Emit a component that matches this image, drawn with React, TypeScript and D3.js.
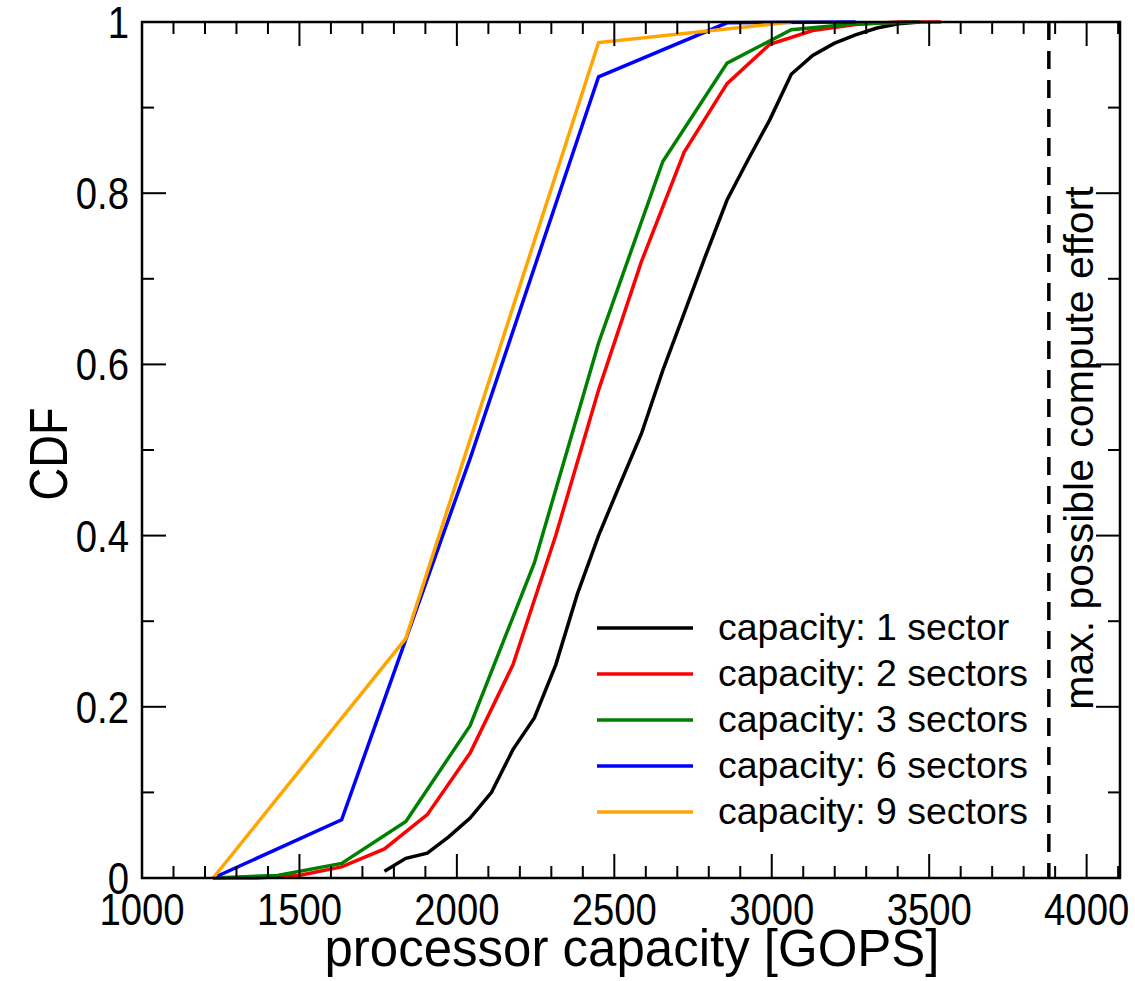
import React from "react";
import * as d3 from "d3";

const seriesNames = [
  "capacity: 1 sector",
  "capacity: 2 sectors",
  "capacity: 3 sectors",
  "capacity: 6 sectors",
  "capacity: 9 sectors",
];
const seriesColors = ["#000000", "#ff0000", "#008000", "#0000ff", "#ffa500"];

const sector1: [number, number][] = [
  [1770, 0.008], [1838, 0.023], [1906, 0.029], [1974, 0.048], [2042, 0.07],
  [2110, 0.1], [2178, 0.15], [2246, 0.187], [2314, 0.249], [2382, 0.331],
  [2450, 0.4], [2518, 0.46], [2586, 0.519], [2654, 0.593], [2722, 0.66],
  [2790, 0.727], [2858, 0.792], [2926, 0.84], [2994, 0.886], [3062, 0.939],
  [3130, 0.961], [3198, 0.975], [3266, 0.985], [3334, 0.993], [3402, 0.998],
  [3470, 1.0],
];
const sector2: [number, number][] = [
  [1226, 0], [1362, 0], [1498, 0.003], [1634, 0.013], [1770, 0.034],
  [1906, 0.074], [2042, 0.146], [2178, 0.249], [2314, 0.4], [2450, 0.57],
  [2586, 0.72], [2722, 0.848], [2858, 0.928], [2994, 0.974], [3130, 0.99],
  [3266, 0.997], [3402, 1.0], [3538, 1.0],
];
const sector3: [number, number][] = [
  [1226, 0], [1430, 0.003], [1634, 0.017], [1838, 0.066], [2042, 0.178],
  [2246, 0.368], [2450, 0.625], [2654, 0.837], [2858, 0.952], [3062, 0.991],
  [3266, 0.998], [3470, 1.0],
];
const sector6: [number, number][] = [
  [1226, 0], [1634, 0.068], [2042, 0.49], [2450, 0.936], [2858, 0.999], [3266, 1.0],
];
const sector9: [number, number][] = [
  [1226, 0], [1838, 0.28], [2450, 0.976], [3062, 1.0],
];
const seriesData = [sector1, sector2, sector3, sector6, sector9];

const xTickLabels = [1000, 1500, 2000, 2500, 3000, 3500, 4000];
const yTickLabels = [0, 0.2, 0.4, 0.6, 0.8, 1];
const maxEffort = 3880;
const xDomain: [number, number] = [1000, 4106];
const yDomain: [number, number] = [0, 1];

const FONT = "'Liberation Sans', Arial, Helvetica, sans-serif";

export default function App() {
  const left = 142, right = 1120, top = 22, bottom = 878;
  const x = d3.scaleLinear().domain(xDomain).range([left, right]);
  const y = d3.scaleLinear().domain(yDomain).range([bottom, top]);
  const line = d3.line<[number, number]>().x((d) => x(d[0])).y((d) => y(d[1]));

  const xMinor = d3.range(1100, 4101, 100).filter((v) => v % 500 !== 0);
  const yMinor = d3.range(0.1, 1, 0.2);
  const major = 24, minor = 12;
  const sx = 0.87;

  return (
    <svg width={1135} height={981} style={{ position: "absolute", left: 0, top: 0, background: "#fff" }}>
      {seriesData.map((d, i) => (
        <path key={i} d={line(d) || ""} fill="none" stroke={seriesColors[i]} strokeWidth={3.5} strokeLinejoin="miter" />
      ))}
      <line x1={x(maxEffort)} x2={x(maxEffort)} y1={y(1)} y2={y(0)} stroke="#000" strokeWidth={3.5} strokeDasharray="18 11" />
      <rect x={left} y={top} width={right - left} height={bottom - top} fill="none" stroke="#000" strokeWidth={2.5} />
      {xTickLabels.map((v) => (
        <g key={"xm" + v}>
          <line x1={x(v)} x2={x(v)} y1={bottom} y2={bottom - major} stroke="#000" strokeWidth={2} />
          <line x1={x(v)} x2={x(v)} y1={top} y2={top + major} stroke="#000" strokeWidth={2} />
          <text x={0} y={0} textAnchor="middle" fontFamily={FONT} fontSize={44} transform={`translate(${x(v)},925) scale(${sx},1)`}>{v}</text>
        </g>
      ))}
      {xMinor.map((v) => (
        <g key={"xn" + v}>
          <line x1={x(v)} x2={x(v)} y1={bottom} y2={bottom - minor} stroke="#000" strokeWidth={2} />
          <line x1={x(v)} x2={x(v)} y1={top} y2={top + minor} stroke="#000" strokeWidth={2} />
        </g>
      ))}
      {yTickLabels.map((v) => (
        <g key={"ym" + v}>
          <line x1={left} x2={left + major} y1={y(v)} y2={y(v)} stroke="#000" strokeWidth={2} />
          <line x1={right} x2={right - major} y1={y(v)} y2={y(v)} stroke="#000" strokeWidth={2} />
          <text x={0} y={0} textAnchor="end" fontFamily={FONT} fontSize={44} transform={`translate(129,${y(v) + 16}) scale(${sx},1)`}>{d3.format("~g")(v)}</text>
        </g>
      ))}
      {yMinor.map((v) => (
        <g key={"yn" + v}>
          <line x1={left} x2={left + minor} y1={y(v)} y2={y(v)} stroke="#000" strokeWidth={2} />
          <line x1={right} x2={right - minor} y1={y(v)} y2={y(v)} stroke="#000" strokeWidth={2} />
        </g>
      ))}
      <text x={632} y={966} textAnchor="middle" fontFamily={FONT} fontSize={51}>processor capacity [GOPS]</text>
      <text transform="translate(67,454) rotate(-90) scale(0.84,1)" textAnchor="middle" fontFamily={FONT} fontSize={54}>CDF</text>
      <text transform="translate(1093,448) rotate(-90)" textAnchor="middle" fontFamily={FONT} fontSize={41}>max. possible compute effort</text>
      {seriesNames.map((n, i) => (
        <g key={n}>
          <line x1={597} x2={693} y1={628 + i * 46} y2={628 + i * 46} stroke={seriesColors[i]} strokeWidth={3.5} />
          <text x={0} y={0} fontFamily={FONT} fontSize={36} transform={`translate(718,${628 + i * 46 + 12}) scale(1.04,1)`}>{n}</text>
        </g>
      ))}
    </svg>
  );
}
